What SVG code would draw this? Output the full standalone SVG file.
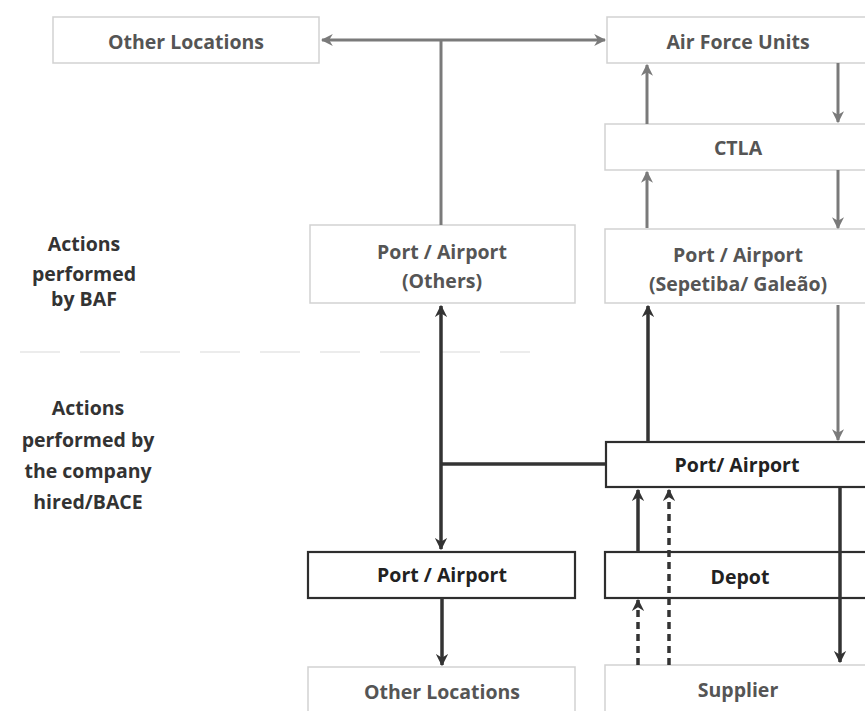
<svg xmlns="http://www.w3.org/2000/svg" width="865" height="711" viewBox="0 0 865 711">
<style>
  .light { fill: #fff; stroke: #d2d2d2; stroke-width: 1.5; }
  .dark { fill: #fff; stroke: #2e2e2e; stroke-width: 2.2; }
  text { font-family: "Open Sans", "Liberation Sans", sans-serif; font-weight: 700; font-size: 19.5px; text-anchor: middle; }
  .tl { fill: #555; }
  .td { fill: #222; }
  .side { fill: #333; }
  .g { stroke: #7a7a7a; stroke-width: 3; fill: none; }
  .k { stroke: #333; stroke-width: 3.5; fill: none; }
  .kd { stroke: #333; stroke-width: 3.5; fill: none; stroke-dasharray: 7 5; }
</style>
<defs>
  <marker id="ag" viewBox="0 0 10 10" refX="9" refY="5" markerWidth="4" markerHeight="4" orient="auto-start-reverse" markerUnits="strokeWidth">
    <path d="M0,0 L10,5 L0,10 L3,5 z" fill="#7a7a7a"/>
  </marker>
  <marker id="ak" viewBox="0 0 10 10" refX="9" refY="5" markerWidth="3.5" markerHeight="3.5" orient="auto-start-reverse" markerUnits="strokeWidth">
    <path d="M0,0 L10,5 L0,10 L3,5 z" fill="#333"/>
  </marker>
</defs>

<line x1="20" y1="352" x2="530" y2="352" stroke="#ececec" stroke-width="2" stroke-dasharray="40 20"/>

<g id="label-baf">
  <text class="side" x="84" y="251">Actions</text>
  <text class="side" x="84" y="281">performed</text>
  <text class="side" x="84" y="306">by BAF</text>
</g>
<g id="label-bace">
  <text class="side" x="88" y="415">Actions</text>
  <text class="side" x="88" y="447">performed by</text>
  <text class="side" x="88" y="478">the company</text>
  <text class="side" x="88" y="509">hired/BACE</text>
</g>

<g id="n-other-top">
  <rect class="light" x="53" y="17" width="266" height="46"/>
  <text class="tl" x="186" y="49">Other Locations</text>
</g>
<g id="n-afu">
  <rect class="light" x="607" y="17" width="270" height="46"/>
  <text class="tl" x="738" y="49">Air Force Units</text>
</g>
<g id="n-ctla">
  <rect class="light" x="605" y="124" width="272" height="46"/>
  <text class="tl" x="738" y="155">CTLA</text>
</g>
<g id="n-others">
  <rect class="light" x="310" y="225" width="265" height="78"/>
  <text class="tl" x="442" y="259">Port / Airport</text>
  <text class="tl" x="442" y="288">(Others)</text>
</g>
<g id="n-sepetiba">
  <rect class="light" x="605" y="229" width="272" height="74"/>
  <text class="tl" x="738" y="262">Port / Airport</text>
  <text class="tl" x="738" y="291">(Sepetiba/ Galeão)</text>
</g>
<g id="n-port-mid">
  <rect class="dark" x="606" y="442" width="271" height="45"/>
  <text class="td" x="737" y="472">Port/ Airport</text>
</g>
<g id="n-port-left">
  <rect class="dark" x="308" y="552" width="267" height="46"/>
  <text class="td" x="442" y="582">Port / Airport</text>
</g>
<g id="n-depot">
  <rect class="dark" x="605" y="552" width="272" height="46"/>
  <text class="td" x="740" y="584">Depot</text>
</g>
<g id="n-other-bottom">
  <rect class="light" x="308" y="667" width="267" height="50"/>
  <text class="tl" x="442" y="699">Other Locations</text>
</g>
<g id="n-supplier">
  <rect class="light" x="605" y="665" width="272" height="52"/>
  <text class="tl" x="738" y="697">Supplier</text>
</g>

<g id="connectors">
  <line class="g" x1="322" y1="40" x2="605" y2="40" marker-start="url(#ag)" marker-end="url(#ag)"/>
  <line class="g" x1="441" y1="40" x2="441" y2="225"/>
  <line class="g" x1="647" y1="124" x2="647" y2="65" marker-end="url(#ag)"/>
  <line class="g" x1="838" y1="63" x2="838" y2="122" marker-end="url(#ag)"/>
  <line class="g" x1="647" y1="228" x2="647" y2="172" marker-end="url(#ag)"/>
  <line class="g" x1="838" y1="170" x2="838" y2="228" marker-end="url(#ag)"/>
  <line class="g" x1="838" y1="305" x2="838" y2="440" marker-end="url(#ag)" stroke-width="2.5"/>
  <line class="k" x1="648" y1="442" x2="648" y2="306" marker-end="url(#ak)"/>
  <line class="k" x1="441" y1="464" x2="605" y2="464"/>
  <line class="k" x1="441" y1="306" x2="441" y2="549" marker-start="url(#ak)" marker-end="url(#ak)"/>
  <line class="k" x1="442" y1="598" x2="442" y2="665" marker-end="url(#ak)"/>
  <line class="k" x1="638" y1="552" x2="638" y2="490" marker-end="url(#ak)"/>
  <line class="kd" x1="669" y1="665" x2="669" y2="490" marker-end="url(#ak)"/>
  <line class="kd" x1="638" y1="665" x2="638" y2="600" marker-end="url(#ak)"/>
  <line class="k" x1="840" y1="488" x2="840" y2="662" marker-end="url(#ak)" stroke-width="3"/>
</g>
</svg>
